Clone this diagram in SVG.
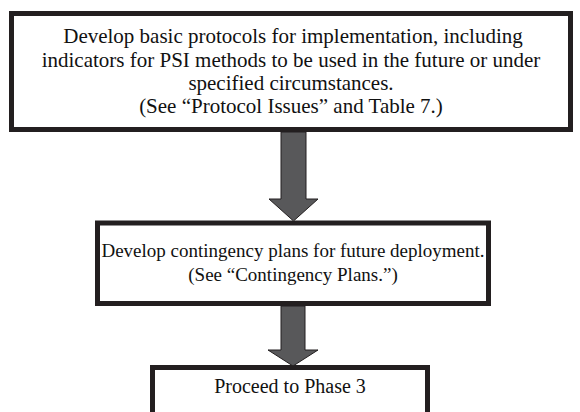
<svg xmlns="http://www.w3.org/2000/svg" width="580" height="412" viewBox="0 0 580 412">
<style>
.box{fill:#fff;stroke:#231f20;stroke-width:5}
text{font-family:'Liberation Serif','Times New Roman',Times,'DejaVu Serif',serif;fill:#111;text-anchor:middle}
.a{font-size:21px}
.b{font-size:19px}
.c{font-size:20px}
.arr{fill:#58585a;stroke:#231f20;stroke-width:1}
</style>
<rect width="580" height="412" fill="#fff"/>
<g id="node1">
<rect class="box" x="11.5" y="13.5" width="559" height="116"/>
<text class="a" x="293" y="43">Develop basic protocols for implementation, including</text>
<text class="a" x="291" y="67">indicators for PSI methods to be used in the future or under</text>
<text class="a" x="291" y="90">specified circumstances.</text>
<text class="a" x="291" y="113">(See “Protocol Issues” and Table 7.)</text>
</g>
<g id="node2">
<rect class="box" x="97.5" y="223" width="391" height="80.5"/>
<text class="b" x="293" y="257">Develop contingency plans for future deployment.</text>
<text class="b" x="293" y="281">(See “Contingency Plans.”)</text>
</g>
<g id="node3">
<rect class="box" x="152.5" y="367.5" width="275" height="60"/>
<text class="c" x="290" y="393">Proceed to Phase 3</text>
</g>
<g id="connectors">
<path class="arr" d="M281,132 H306 V199 H318 L293.5,221 L269,199 H281 Z"/>
<path class="arr" d="M281,306 H305 V350 H318 L293,366 L268,350 H281 Z"/>
</g>
</svg>
